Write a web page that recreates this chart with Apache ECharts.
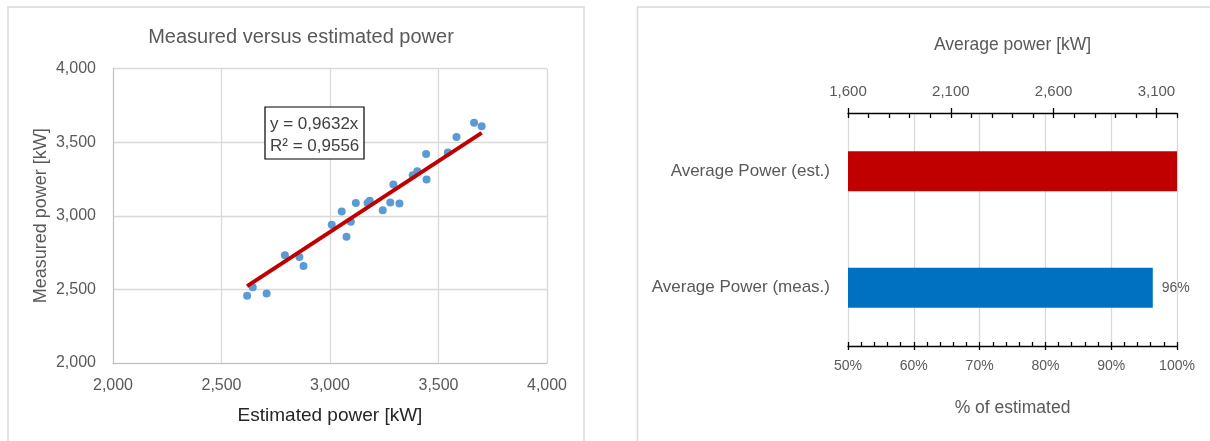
<!DOCTYPE html>
<html>
<head>
<meta charset="utf-8">
<script src="https://cdn.jsdelivr.net/npm/echarts@6/dist/echarts.min.js"></script>
<style>
  html, body { margin: 0; padding: 0; background: #fff; }
  #chart { width: 1210px; height: 441px; }
</style>
</head>
<body>
<div id="chart"></div>
<script>
// scatter: estimated vs measured power [kW]
var estimated = [2618, 2644, 2708, 2792, 2859, 2878, 3008, 3054, 3076, 3096, 3119, 3173, 3183,
  3243, 3278, 3320, 3292, 3381, 3402, 3443, 3445, 3543, 3583, 3664, 3699];
var measured = [2456, 2515, 2472, 2731, 2720, 2659, 2939, 3029, 2858, 2959, 3086, 3086, 3102,
  3038, 3090, 3084, 3212, 3275, 3302, 3420, 3246, 3429, 3535, 3632, 3607];
var slope = 0.9632;
var rSquared = 0.9556;

// bars: share of estimated power [%]
var barCategories = ['Average Power (meas.)', 'Average Power (est.)'];
var barValues = [96.32, 100];
var barColors = ['#0070C0', '#C00000'];

// top axis tick labels [kW]
var topTicks = [1600, 2100, 2600, 3100];

var grey = '#595959';
var font = 'Liberation Sans';

var points = estimated.map(function (x, i) { return [x, measured[i]]; });
var xMin = Math.min.apply(null, estimated);
var xMax = Math.max.apply(null, estimated);
var trend = [[xMin, slope * xMin], [xMax, slope * xMax]];

function comma(n) { return String(n).replace('.', ','); }

var tickLine = { color: '#000', width: 1.3 };

var myChart = echarts.init(document.getElementById('chart'));
option = {
  animation: false,
  textStyle: { fontFamily: font },
  title: {
    text: 'Measured versus estimated power',
    left: 296,
    top: 22,
    textAlign: 'center',
    textStyle: { color: grey, fontSize: 20, fontWeight: 'normal', fontFamily: font }
  },
  graphic: [
    { type: 'rect', z: -10, silent: true, shape: { x: 8, y: 7, width: 576, height: 460 },
      style: { fill: 'none', stroke: '#d9d9d9', lineWidth: 1.5 } },
    { type: 'rect', z: -10, silent: true, shape: { x: 637.5, y: 7, width: 600, height: 460 },
      style: { fill: 'none', stroke: '#d9d9d9', lineWidth: 1.5 } },
    { type: 'rect', z: 50, shape: { x: 265, y: 107, width: 99, height: 52 },
      style: { fill: '#fff', stroke: '#000', lineWidth: 1.2 } },
    { type: 'text', z: 51, x: 270, y: 113,
      style: {
        text: 'y = ' + comma(slope) + 'x\nR² = ' + comma(rSquared),
        fill: '#404040', font: '17px "Liberation Sans"', lineHeight: 22
      } }
  ],
  grid: [
    { left: 113, top: 68.5, width: 434, height: 294.5, outerBoundsMode: 'none' },
    { left: 848, top: 113, width: 329, height: 233, outerBoundsMode: 'none' }
  ],
  xAxis: [
    {
      gridIndex: 0, type: 'value', min: 2000, max: 4000, interval: 500,
      name: 'Estimated power [kW]', nameLocation: 'middle', nameGap: 43,
      nameTextStyle: { color: '#262626', fontSize: 19 },
      axisLine: { show: true, lineStyle: { color: '#bfbfbf' } },
      axisTick: { show: false },
      axisLabel: { color: grey, fontSize: 16, margin: 15 },
      splitLine: { lineStyle: { color: '#d9d9d9', width: 1.3 } }
    },
    {
      gridIndex: 1, type: 'value', position: 'bottom', min: 50, max: 100, interval: 10,
      name: '% of estimated', nameLocation: 'middle', nameGap: 53,
      nameTextStyle: { color: grey, fontSize: 17.5 },
      axisLine: { show: true, lineStyle: tickLine },
      axisTick: { show: true, inside: true, length: 4, lineStyle: tickLine },
      minorTick: { show: true, splitNumber: 5, length: 4, lineStyle: tickLine },
      axisLabel: { color: grey, fontSize: 14, margin: 13, formatter: '{value}%' },
      splitLine: { lineStyle: { color: '#d9d9d9', width: 1.3 } }
    },
    {
      gridIndex: 1, type: 'value', position: 'bottom', min: 50, max: 100, interval: 10,
      axisLine: { show: false },
      axisTick: { show: true, length: 4, lineStyle: tickLine },
      axisLabel: { show: false },
      splitLine: { show: false }
    },
    {
      gridIndex: 1, type: 'value', position: 'top', min: 1600, max: 3200, interval: 100,
      name: 'Average power [kW]', nameLocation: 'middle', nameGap: 59,
      nameTextStyle: { color: grey, fontSize: 17.5 },
      axisLine: { show: true, lineStyle: tickLine },
      axisTick: { show: true, inside: true, length: 5, lineStyle: tickLine },
      axisLabel: {
        color: grey, fontSize: 15, margin: 14, hideOverlap: false,
        formatter: function (v) { return topTicks.indexOf(v) >= 0 ? v.toLocaleString('en-US') : ''; }
      },
      splitLine: { show: false }
    },
    {
      gridIndex: 1, type: 'value', position: 'top', min: 1600, max: 3200, interval: 100,
      axisLine: { show: false },
      axisTick: { show: true, length: 5, customValues: topTicks, lineStyle: tickLine },
      axisLabel: { show: false },
      splitLine: { show: false }
    }
  ],
  yAxis: [
    {
      gridIndex: 0, type: 'value', min: 2000, max: 4000, interval: 500,
      name: 'Measured power [kW]', nameLocation: 'middle', nameGap: 63,
      nameTextStyle: { color: grey, fontSize: 18 },
      axisLine: { show: true, lineStyle: { color: '#bfbfbf' } },
      axisTick: { show: false },
      axisLabel: { color: grey, fontSize: 16, margin: 17 },
      splitLine: { lineStyle: { color: '#d9d9d9', width: 1.3 } }
    },
    {
      gridIndex: 1, type: 'category', data: barCategories,
      axisLine: { show: false },
      axisTick: { show: false },
      axisLabel: { color: grey, fontSize: 17, margin: 18 }
    }
  ],
  series: [
    {
      type: 'scatter', xAxisIndex: 0, yAxisIndex: 0,
      data: points, symbolSize: 8,
      itemStyle: { color: '#5B9BD5', opacity: 1 }
    },
    {
      type: 'line', xAxisIndex: 0, yAxisIndex: 0,
      data: trend, showSymbol: false, symbol: 'none',
      lineStyle: { color: '#C00000', width: 4 },
      z: 5
    },
    {
      type: 'bar', xAxisIndex: 1, yAxisIndex: 1, barWidth: 40, clip: true,
      data: barValues.map(function (v, i) {
        return {
          value: v,
          itemStyle: { color: barColors[i] },
          label: { show: i === 0 }
        };
      }),
      label: {
        position: 'right', distance: 9, color: grey, fontSize: 14,
        formatter: function (p) { return Math.round(p.value) + '%'; }
      }
    }
  ]
};

myChart.setOption(option);
</script>
</body>
</html>
